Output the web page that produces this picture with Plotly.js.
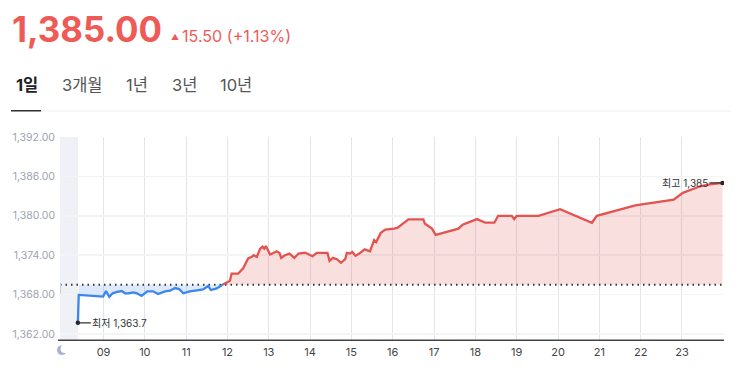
<!DOCTYPE html>
<html><head><meta charset="utf-8">
<script src="https://cdn.plot.ly/plotly-3.0.1.min.js"></script>
<style>html,body{margin:0;padding:0;background:#fff}#c{width:750px;height:375px}</style>
</head><body><div id="c"></div>
<script>
const previousClose = 1369.5;
const priceText = "1,385.00";
const changeText = "15.50 (+1.13%)";
const tabs = ["1일", "3개월", "1년", "3년", "10년"];
const hourTicks = [9,10,11,12,13,14,15,16,17,18,19,20,21,22,23];
const hourLabels = ["09","10","11","12","13","14","15","16","17","18","19","20","21","22","23"];
const priceTicks = [1362,1368,1374,1380,1386,1392];
const priceLabels = ["1,362.00","1,368.00","1,374.00","1,380.00","1,386.00","1,392.00"];
const blueHours = [8.38,8.40,8.99,9.06,9.14,9.22,9.33,9.44,9.52,9.60,9.72,9.81,9.92,10.06,10.20,10.32,10.49,10.61,10.73,10.83,10.93,11.09,11.26,11.41,11.53,11.60,11.74,11.89];
const blueValues = [1363.7,1367.95,1367.7,1368.55,1367.65,1368.2,1368.4,1368.55,1368.2,1368.2,1368.35,1368.2,1367.8,1368.5,1368.5,1368.1,1368.5,1368.6,1369.0,1368.85,1368.2,1368.5,1368.65,1368.8,1369.3,1368.7,1368.95,1369.55];
const redHours = [11.89,12.06,12.10,12.26,12.38,12.50,12.59,12.63,12.71,12.79,12.85,12.89,12.93,13.03,13.11,13.19,13.26,13.30,13.39,13.50,13.62,13.72,13.88,14.06,14.16,14.42,14.47,14.55,14.65,14.75,14.85,14.89,14.97,15.02,15.10,15.19,15.32,15.45,15.55,15.60,15.71,15.82,16.03,16.11,16.38,16.74,16.78,16.95,17.04,17.59,17.69,18.04,18.24,18.46,18.55,18.88,18.94,19.00,19.53,19.85,20.05,20.82,20.94,21.87,22.80,23.02,23.44,23.68,23.98];
const redValues = [1369.55,1370.1,1371.2,1371.2,1372.0,1373.5,1373.75,1374.0,1373.75,1375.0,1375.3,1375.0,1375.4,1374.1,1374.35,1374.6,1374.35,1373.6,1374.0,1374.25,1373.6,1374.25,1374.4,1373.85,1374.35,1374.35,1373.15,1373.6,1373.4,1372.85,1373.4,1374.35,1374.25,1374.5,1373.9,1374.25,1374.9,1374.6,1376.3,1376.0,1377.4,1377.9,1378.05,1378.15,1379.45,1379.45,1378.8,1378.05,1377.1,1378.05,1378.65,1379.5,1378.95,1378.95,1380.0,1380.0,1379.5,1380.0,1380.0,1380.6,1381.0,1378.95,1380.0,1381.6,1382.45,1383.5,1384.5,1384.8,1385.0];

const W=750,H=375,M={l:60,r:26,t:137,b:35};
const px=x=>(x-M.l)/(W-M.l-M.r), py=y=>1-(y-M.t)/(H-M.t-M.b);
const xRange=[7.947,24.017], yRange=[1361.09,1392];
const KR='"Inter","Noto Sans CJK KR",sans-serif';
function label(x,y,text,size,color,weight,anchor,family){
  return {xref:'paper',yref:'paper',x:px(x),y:py(y),text:weight?'<b>'+text+'</b>':text,showarrow:false,
    xanchor:anchor||'left',yanchor:'middle',font:{family:family||KR,size:size,color:color},borderpad:0};
}
function rect(x0,y0,x1,y1,color,layer){
  return {type:'rect',xref:'paper',yref:'paper',x0:px(x0),x1:px(x1),y0:py(y0),y1:py(y1),fillcolor:color,line:{width:0},layer:layer||'above'};
}
const P=(x,y)=>px(x)+','+py(y);
const red='#e5534f', blue='#3b86ee';
const last=redValues.length-1;
const traces=[
 {x:[blueHours[1],blueHours[blueHours.length-1]],y:[previousClose,previousClose],mode:'lines',line:{width:0},hoverinfo:'skip'},
 {x:blueHours.slice(1),y:blueValues.slice(1),mode:'lines',line:{width:0},fill:'tonexty',fillcolor:'rgba(90,150,240,0.2)',hoverinfo:'skip'},
 {x:[redHours[0],redHours[last]],y:[previousClose,previousClose],mode:'lines',line:{width:0},hoverinfo:'skip'},
 {x:redHours,y:redValues,mode:'lines',line:{width:0},fill:'tonexty',fillcolor:'rgba(225,85,80,0.19)',hoverinfo:'skip'},
 {x:xRange,y:[previousClose,previousClose],mode:'lines',line:{color:'#333',width:2,dash:'1.5px 4px'},hoverinfo:'skip'},
 {x:blueHours,y:blueValues,mode:'lines',line:{color:blue,width:2.3},hoverinfo:'skip'},
 {x:redHours,y:redValues,mode:'lines',line:{color:red,width:2.3},hoverinfo:'skip'},
 {x:[blueHours[0],redHours[last]],y:[blueValues[0],redValues[last]],mode:'markers',marker:{color:'#222',size:4.5},hoverinfo:'skip'}
];
const tabX=[15,61,125,171,219];
const annotations=[
 label(11,29,priceText,34.8,'#ee5b56',true),
 label(170,37,'▲',8,'#ee5b56'),
 label(180.5,36,changeText,16.1,'#ee5b56'),
 ...tabs.map((t,i)=>label(tabX[i],85,t,16.5,i===0?'#222':'#555',i===0)),
 {x:blueHours[0],y:blueValues[0],xref:'x',yref:'y',text:'최저 1,363.7',showarrow:true,arrowhead:0,arrowwidth:1.2,arrowcolor:'#333',
  ax:13,ay:0,xanchor:'left',yanchor:'middle',font:{family:KR,size:10,color:'#333'},standoff:0,borderpad:0},
 {x:redHours[last],y:redValues[last],xref:'x',yref:'y',text:'최고 1,385',showarrow:true,arrowhead:0,arrowwidth:1.2,arrowcolor:'#333',
  ax:-13,ay:0,xanchor:'right',yanchor:'middle',font:{family:KR,size:10,color:'#333'},standoff:0,borderpad:0}
];
const shapes=[
 rect(60,137,78,340,'#eff1f7','below'),
 rect(60,284,61,294,'#c9cfe6','above'),
 rect(11,110.5,731,111.5,'#eeeeee'),
 rect(11,110,41,111.5,'#333333'),
 rect(58,339.5,724,341,'#444444'),
 {type:'path',xref:'paper',yref:'paper',layer:'above',fillcolor:'#aab1cf',line:{width:0},
  path:'M'+P(62,345)+'Q'+P(57,346)+' '+P(57,350)+'Q'+P(57.5,355)+' '+P(62,355)+'Q'+P(65,355)+' '+P(66,353)+'Q'+P(60.5,353.5)+' '+P(60.5,349)+'Q'+P(60.5,346.5)+' '+P(62,345)+'Z'}
];
Plotly.newPlot('c',traces,{
 width:W,height:H,margin:M,paper_bgcolor:'#fff',plot_bgcolor:'rgba(0,0,0,0)',showlegend:false,
 xaxis:{range:xRange,tickmode:'array',tickvals:hourTicks,ticktext:hourLabels,showgrid:true,gridcolor:'#e2e4ec',gridwidth:1,
   zeroline:false,showline:false,ticks:'',tickfont:{family:KR,size:11,color:'#444'},ticklabelstandoff:4},
 yaxis:{range:yRange,tickmode:'array',tickvals:priceTicks,ticktext:priceLabels,showgrid:true,gridcolor:'#f3f4f6',gridwidth:1.5,
   zeroline:false,showline:false,ticks:'',tickfont:{family:KR,size:10.5,color:'#9ea3af'},ticklabelstandoff:4},
 annotations,shapes,hovermode:false
},{displayModeBar:false,staticPlot:true});
</script></body></html>
